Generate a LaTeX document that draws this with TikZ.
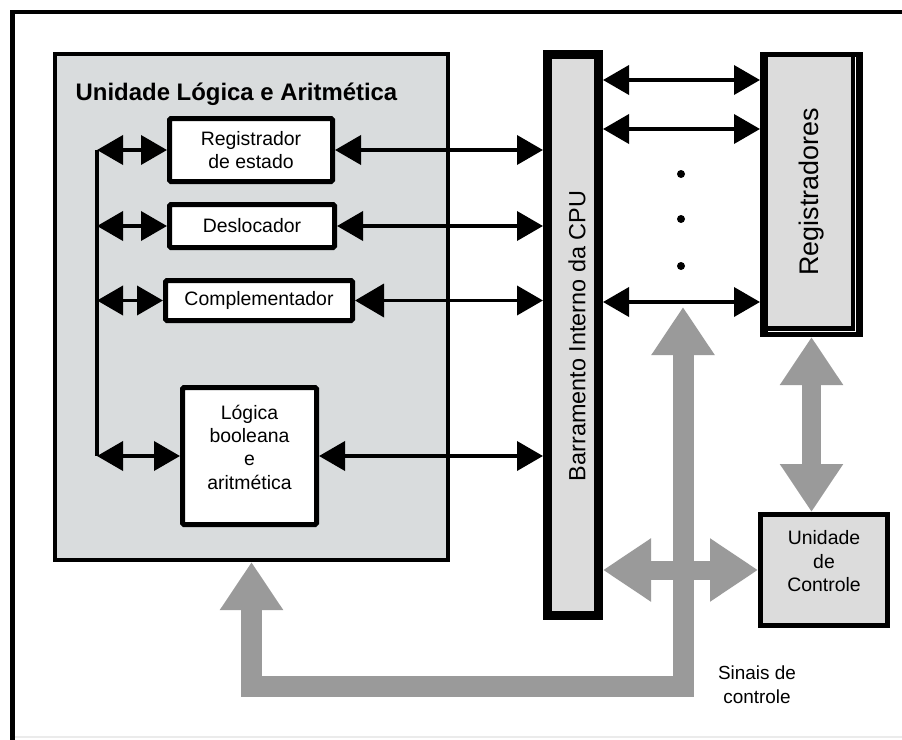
\documentclass[tikz,border=0pt]{standalone}
\usepackage{fontspec}
\setmainfont{Liberation Sans}
\usetikzlibrary{arrows.meta}
\definecolor{alufill}{HTML}{D9DCDD}
\definecolor{boxfill}{HTML}{DCDCDC}
\definecolor{sigarrow}{HTML}{9A9A9A}
\begin{document}
\begin{tikzpicture}[x=1bp,y=-1bp,
  txt/.style={font=\fontsize{19.5}{23.5}\selectfont, align=center},
  unitbox/.style={draw, line width=5bp, fill=white, rounded corners=1.5bp, inner sep=0pt, txt},
  dbl/.style={line width=3.8bp, {Triangle[length=26bp,width=29bp]}-{Triangle[length=26bp,width=29bp]}},
  fatdbl/.style={draw=sigarrow, line width=#1, line join=miter,
    {Triangle[length=48bp,width=60bp]}-{Triangle[length=48bp,width=60bp]}},
  fatdbl/.default=19bp
]
\useasboundingbox (0,0) rectangle (902,740);

% outer frame (top and left edges)
\draw[line width=4.5bp] (902,12) -- (12.5,12) -- (12.5,740);
\draw[line width=1.5bp, black!8] (15,737) -- (902,737);

% ALU container
\node[draw, line width=4bp, fill=alufill, minimum width=393bp, minimum height=506bp, inner sep=0pt] (alu) at (251.5,307) {};
\node[anchor=base, font=\fontsize{24}{28}\selectfont\bfseries] (alutitle) at (236.5,100) {Unidade Lógica e Aritmética};

% ALU units
\node[unitbox, minimum width=163bp, minimum height=63bp] (regst) at (251,150) {Registrador\\de estado};
\node[unitbox, minimum width=165bp, minimum height=43bp] (desl) at (252,226) {Deslocador};
\node[unitbox, minimum width=187bp, minimum height=40bp] (compl) at (259,300.5) {Complementador};
\node[unitbox, minimum width=134bp, minimum height=137bp] (logic) at (249.5,456) {Lógica\\booleana\\e\\aritmética\rule[-18bp]{0pt}{0pt}};

% internal bus
\node[draw, line width=9bp, fill=boxfill, minimum width=51bp, minimum height=561bp, inner sep=0pt] (bus) at (573,335) {};
\node[rotate=90, font=\fontsize{23.5}{27}\selectfont] (bustext) at (577,336) {Barramento Interno da CPU};

% register file (double-edged frame)
\node[fill=black, minimum width=103bp, minimum height=285bp, inner sep=0pt, outer sep=0pt] (regsframe) at (811.5,194.5) {};
\draw[white, line width=1.5bp] (855.5,57) -- (855.5,331.5) -- (768,331.5);
\node[fill=boxfill, minimum width=83bp, minimum height=269bp, inner sep=0pt] (regs) at (809.5,191.5) {};
\node[rotate=90, font=\fontsize{27}{31}\selectfont] (regstext) at (812,192) {Registradores};

% control unit
\node[draw, line width=5bp, fill=boxfill, minimum width=127bp, minimum height=111bp, inner sep=0pt, txt, font=\fontsize{19.5}{24}\selectfont] (ctrl) at (824,570) {Unidade\\de\\Controle\rule[-18bp]{0pt}{0pt}};

\node[txt, font=\fontsize{19}{24}\selectfont] (sig) at (757,685) {Sinais de\\controle};

% left distribution line
\path (97,0) coordinate (lx);
\draw[line width=3.8bp] (regst.west -| lx) -- (logic.west -| lx);
\draw[dbl] (regst.west -| lx) -- (regst.west);
\draw[dbl] (desl.west -| lx) -- (desl.west);
\draw[dbl] (compl.west -| lx) -- (compl.west);
\draw[dbl] (logic.west -| lx) -- (logic.west);

% units to internal bus
\draw[dbl] (regst.east) -- (regst.east -| bus.west);
\draw[dbl] (desl.east) -- (desl.east -| bus.west);
\draw[line width=3.8bp, {Triangle[length=29bp,width=33bp]}-{Triangle[length=26bp,width=29bp]}] (compl.east) -- (compl.east -| bus.west);
\draw[dbl] (logic.east) -- (logic.east -| bus.west);

% internal bus to registers
\path (0,80) coordinate (ra) (0,129) coordinate (rb) (0,302) coordinate (rc);
\draw[dbl] (bus.east |- ra) -- (regsframe.west |- ra);
\draw[dbl] (bus.east |- rb) -- (regsframe.west |- rb);
\draw[dbl] (bus.east |- rc) -- (regsframe.west |- rc);

% ellipsis between register lines
\foreach \yy in {174,219,266}
  \fill (681,\yy) circle (4bp);

% control signal paths
\path (683,307) coordinate (sigtop) (683,686) coordinate (sigcorner);
\draw[fatdbl=21bp] (sigtop) -- (sigcorner) -- (alu.south |- sigcorner) -- (alu.south);
\draw[fatdbl=19bp] (regsframe.south) -- (regsframe.south |- ctrl.north);
\draw[fatdbl=19bp] (bus.east |- ctrl.west) -- (ctrl.west);
\end{tikzpicture}
\end{document}
